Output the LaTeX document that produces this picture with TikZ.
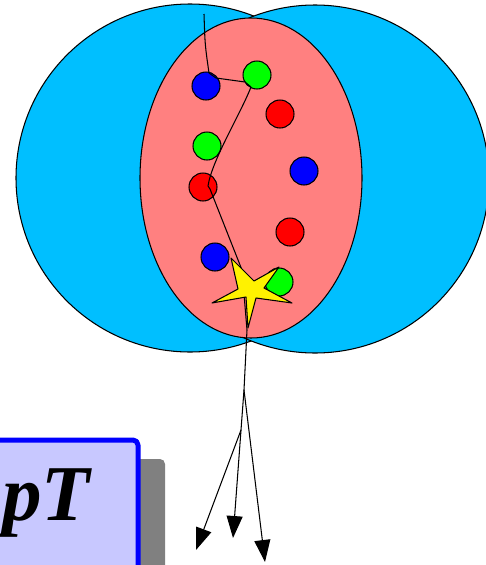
\documentclass[tikz,border=0pt]{standalone}
\usepackage{fontspec}
\setmainfont{Liberation Serif}
\usepackage{tikz}
\usetikzlibrary{arrows.meta}

\definecolor{skyfill}{HTML}{00BFFF}
\definecolor{salmonfill}{HTML}{FF8080}
\definecolor{boxfill}{HTML}{C8C8FF}
\definecolor{shadowgray}{HTML}{808080}

\begin{document}
\begin{tikzpicture}[x=0.02cm, y=-0.02cm, line join=round,
  ptcl/.style={circle, draw, line width=0.6pt, minimum size=0.56cm, inner sep=0pt},
  trk/.style={line width=0.6pt},
  jetarrow/.style={line width=0.6pt, -{Triangle[length=0.44cm, width=0.32cm]}}]

\useasboundingbox (0,0) rectangle (486,565);
\clip (0,0) rectangle (486,565);

% Two nuclei and the overlap region
\draw[line width=0.6pt, fill=skyfill] (190,178) circle[radius=174];
\draw[line width=0.6pt, fill=skyfill] (315,179) circle[radius=174];
\draw[line width=0.6pt, fill=salmonfill] (251,178) ellipse[x radius=111, y radius=160];

% Nucleons in the overlap
\node[ptcl, fill=blue] (b1) at (206,86) {};
\node[ptcl, fill=green] (g1) at (257,75) {};
\node[ptcl, fill=red] (r1) at (280,114) {};
\node[ptcl, fill=green] (g2) at (207,146) {};
\node[ptcl, fill=blue] (b2) at (304,171) {};
\node[ptcl, fill=red] (r2) at (203,187) {};
\node[ptcl, fill=red] (r3) at (290,232) {};
\node[ptcl, fill=blue] (b3) at (215,257) {};
\node[ptcl, fill=green] (g3) at (279,282) {};

% Track through the medium
\coordinate (entry) at (204,14);
\coordinate (k1) at (209,73);
\coordinate (k2) at (251,87);
\coordinate (k3) at (208,186);
\coordinate (vtx) at (247,330);
\coordinate (split1) at (244,390);
\coordinate (split2) at (241,430);

\draw[trk] (entry) .. controls (205,45) .. (k1) -- (216,78) -- (245,82) -- (k2)
  .. controls (240,115) and (212,160) .. (k3) -- (210,189) -- (242,270) -- (vtx) -- (split1);

% Hard scattering
\draw[line width=0.6pt, fill=yellow] (231,258) -- (254,281) -- (279,267) -- (264,288)
  -- (292,303) -- (256,298) -- (248,328) -- (246,297) -- (212,303) -- (238,289) -- cycle;

% Outgoing jet
\draw[jetarrow] (split1) -- (265,562);
\draw[trk] (split1) -- (split2);
\draw[jetarrow] (split2) -- (233,538);
\draw[jetarrow] (split2) -- (196,550);

% Label box
\fill[shadowgray, rounded corners=0.1cm] (-177,459) rectangle (165,720);
\draw[blue, line width=0.1cm, fill=boxfill, rounded corners=0.1cm] (-200,440) rectangle (138,700);
\node[anchor=base west, inner sep=0pt, font=\fontsize{45}{50}\selectfont\bfseries\itshape] (lbl) at (2,520) {pT};

\end{tikzpicture}
\end{document}
